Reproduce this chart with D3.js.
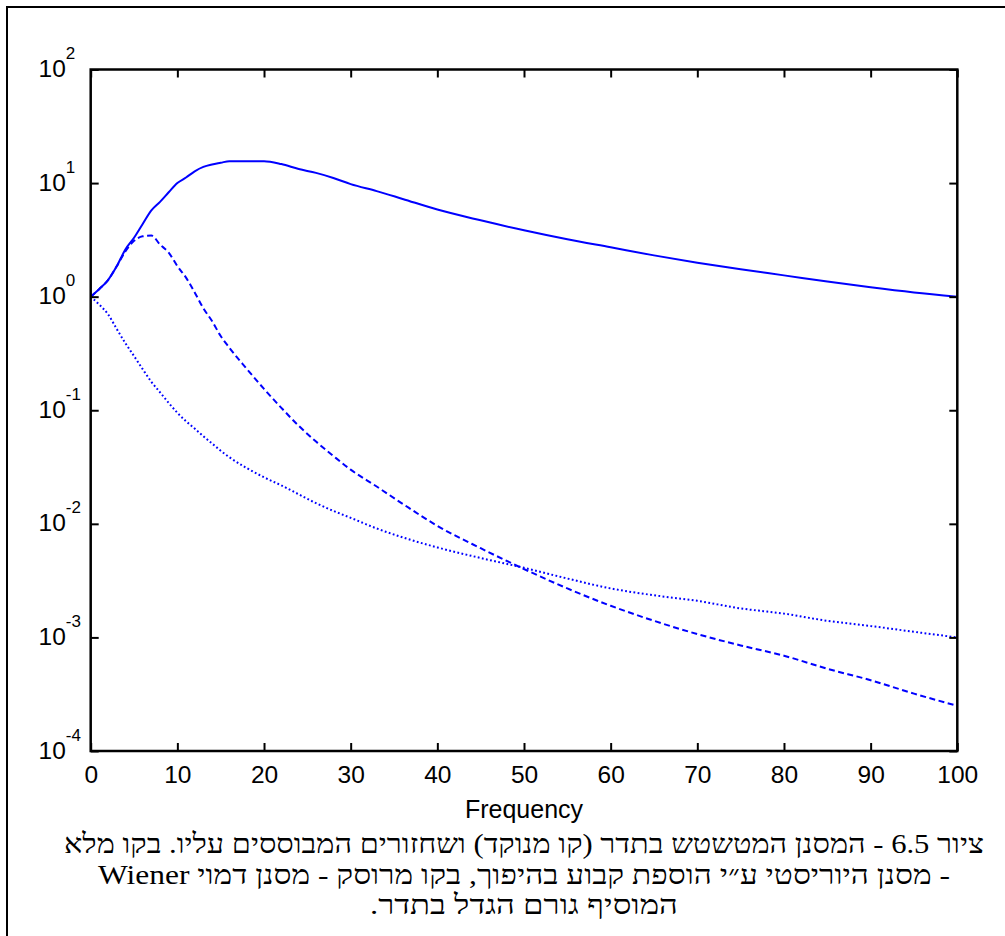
<!DOCTYPE html>
<html>
<head>
<meta charset="utf-8">
<script src="https://cdn.jsdelivr.net/npm/d3@7"></script>
<style>
  html, body { margin: 0; padding: 0; background: #fff; }
  svg { display: block; }
</style>
</head>
<body>
<svg id="chart" width="1005" height="936"></svg>
<script>
// ---- data ----
const freq = [0,1,2,3,4,5,6,7,8,9,10,11,12,13,14,15,16,18,20,22,24,26,28,30,33,36,40,45,50,55,60,65,70,75,80,85,90,95,100];
// solid: heuristic filter (constant added in inversion)
const solidVals = [1.0,1.17,1.40,1.85,2.6,3.3,4.37,5.75,6.84,8.3,10.0,11.2,12.7,13.9,14.6,15.1,15.6,15.6,15.6,14.7,13.3,12.3,11.1,9.8,8.5,7.25,5.85,4.7,3.84,3.2,2.72,2.31,1.99,1.74,1.54,1.36,1.21,1.09,1.0];
// dashed: Wiener-like filter with frequency-growing term
const dashedVals = [1.0,1.17,1.40,1.85,2.5,3.1,3.4,3.45,2.88,2.44,1.86,1.47,1.09,0.79,0.61,0.45,0.355,0.232,0.154,0.105,0.073,0.053,0.0396,0.030,0.0213,0.015,0.0096,0.0061,0.0040,0.0027,0.0019,0.0014,0.00107,0.00085,0.00069,0.00053,0.00042,0.00032,0.00025];
// dotted: blurring filter
const dottedVals = [1.0,0.85,0.70,0.52,0.39,0.30,0.23,0.178,0.144,0.116,0.095,0.080,0.069,0.059,0.051,0.044,0.0386,0.031,0.0257,0.0218,0.0182,0.0152,0.013,0.0113,0.0091,0.0076,0.0062,0.0050,0.0041,0.0033,0.0027,0.00235,0.0021,0.0018,0.00162,0.0014,0.00126,0.00112,0.001];

const xTicks = [0,10,20,30,40,50,60,70,80,90,100];
const yTickExps = [-4,-3,-2,-1,0,1,2];
const xLabel = "Frequency";
const captionLines = [
  "ציור 6.5 - המסנן המטשטש בתדר (קו מנוקד) ושחזורים המבוססים עליו. בקו מלא",
  "- מסנן היוריסטי ע״י הוספת קבוע בהיפוך, בקו מרוסק - מסנן דמוי Wiener",
  "המוסיף גורם הגדל בתדר."
];

// ---- layout ----
const svg = d3.select("#chart");
const L = 90.7, R = 957.3, T = 69.5, B = 751;
const x = d3.scaleLinear().domain([0, 100]).range([L, R]);
const y = d3.scaleLog().domain([1e-4, 1e2]).range([B, T]);
const sans = "Arial, 'Liberation Sans', Helvetica, sans-serif";
const serif = "'Times New Roman', 'Liberation Serif', serif";

// outer frame
svg.append("rect").attr("x", 7).attr("y", 7).attr("width", 1200).attr("height", 1200)
  .attr("fill", "none").attr("stroke", "#000").attr("stroke-width", 2);

// curves
const series = [
  { vals: solidVals, dash: null, w: 2 },
  { vals: dashedVals, dash: "6,3.5", w: 2 },
  { vals: dottedVals, dash: "1.8,2.4", w: 2 }
];
const line = d3.line().x(d => x(d[0])).y(d => y(d[1])).curve(d3.curveMonotoneX);
series.forEach(s => {
  svg.append("path")
    .datum(freq.map((f, i) => [f, s.vals[i]]))
    .attr("d", line)
    .attr("fill", "none")
    .attr("stroke", "#0000ff")
    .attr("stroke-width", s.w)
    .attr("stroke-dasharray", s.dash);
});

// axes (ticks inward, box)
const yTickVals = yTickExps.map(e => Math.pow(10, e));
const styleAxis = g => {
  g.select(".domain").remove();
  g.selectAll(".tick line").attr("stroke", "#000").attr("stroke-width", 2);
};
svg.append("g").attr("transform", `translate(0,${B})`)
  .call(d3.axisBottom(x).tickValues(xTicks).tickSize(-8).tickPadding(15).tickFormat(d3.format("d")))
  .call(styleAxis)
  .call(g => g.selectAll("text").attr("font-family", sans).attr("font-size", 24.5).attr("fill", "#000"));
svg.append("g").attr("transform", `translate(0,${T})`)
  .call(d3.axisTop(x).tickValues(xTicks).tickSize(-8).tickFormat(""))
  .call(styleAxis);
svg.append("g").attr("transform", `translate(${L},0)`)
  .call(d3.axisLeft(y).tickValues(yTickVals).tickSize(-8).tickFormat(""))
  .call(styleAxis);
svg.append("g").attr("transform", `translate(${R},0)`)
  .call(d3.axisRight(y).tickValues(yTickVals).tickSize(-8).tickFormat(""))
  .call(styleAxis);

svg.append("rect").attr("x", L).attr("y", T).attr("width", R - L).attr("height", B - T)
  .attr("fill", "none").attr("stroke", "#000").attr("stroke-width", 2.5);

// y tick labels with superscripts
yTickExps.forEach(e => {
  const t = svg.append("text")
    .attr("x", 38.5).attr("y", y(Math.pow(10, e)) + 7.5)
    .attr("font-family", sans).attr("font-size", 24.5).attr("fill", "#000");
  t.append("tspan").text("10");
  t.append("tspan").attr("dy", -18).attr("font-size", 17).text(String(e));
});

// x label
svg.append("text").attr("x", (L + R) / 2).attr("y", 818)
  .attr("text-anchor", "middle").attr("font-family", sans).attr("font-size", 25)
  .attr("fill", "#000").text(xLabel);

// caption
const capY = [853, 884, 914];
const capW = [920, 852, 308];
captionLines.forEach((s, i) => {
  svg.append("text").attr("x", 524).attr("y", capY[i])
    .attr("text-anchor", "middle").attr("direction", "rtl")
    .attr("font-family", serif).attr("font-size", 27.5).attr("fill", "#000")
    .attr("textLength", capW[i]).attr("lengthAdjust", "spacingAndGlyphs")
    .text(s);
});
</script>
</body>
</html>
